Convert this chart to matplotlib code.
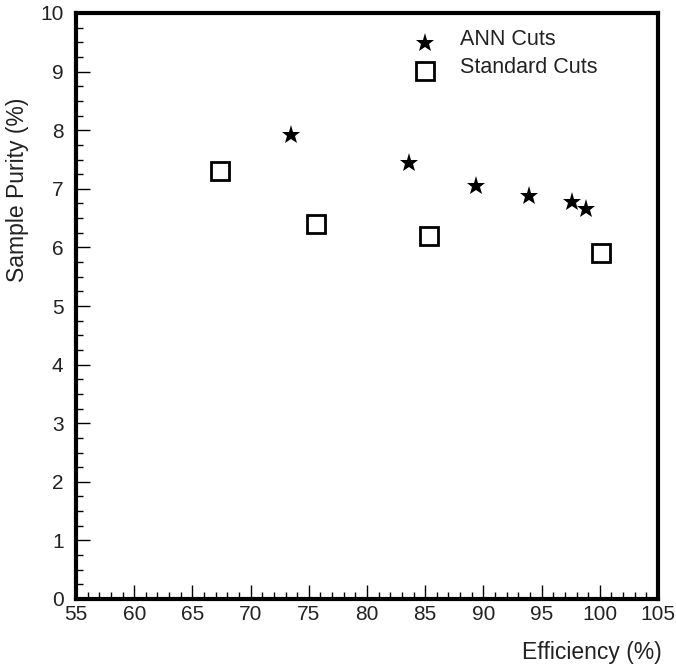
import matplotlib
matplotlib.use("Agg")
import matplotlib.pyplot as plt
from matplotlib.ticker import MultipleLocator

plt.rcParams['font.family'] = ['Liberation Sans', 'DejaVu Sans']

# Efficiency (%) vs sample purity (%)
ann_eff = [73.5, 83.6, 89.4, 93.9, 97.6, 98.8]
ann_pur = [7.92, 7.44, 7.04, 6.87, 6.77, 6.66]
std_eff = [67.4, 75.6, 85.3, 100.1]
std_pur = [7.30, 6.40, 6.20, 5.90]

fig = plt.figure(figsize=(6.76, 6.65), dpi=100)
ax = fig.add_axes([76/676, 1 - 599/665, (658-76)/676, (599-13)/665])

ax.plot(ann_eff, ann_pur, linestyle='none', marker='*', markersize=14,
        color='black', markeredgewidth=0)
ax.plot(std_eff, std_pur, linestyle='none', marker='s', markersize=13,
        markerfacecolor='white', markeredgecolor='black', markeredgewidth=2)

# in-plot key
ax.plot([85.0], [9.49], linestyle='none', marker='*', markersize=14,
        color='black', markeredgewidth=0)
ax.plot([85.0], [9.01], linestyle='none', marker='s', markersize=13,
        markerfacecolor='white', markeredgecolor='black', markeredgewidth=2)
ax.text(88.0, 9.55, 'ANN Cuts', fontsize=15.5, va='center', ha='left',
        color='#222222')
ax.text(88.0, 9.07, 'Standard Cuts', fontsize=15.5, va='center', ha='left',
        color='#222222')

ax.set_xlim(55, 105)
ax.set_ylim(0, 10)
ax.xaxis.set_major_locator(MultipleLocator(5))
ax.xaxis.set_minor_locator(MultipleLocator(1))
ax.yaxis.set_major_locator(MultipleLocator(1))
ax.yaxis.set_minor_locator(MultipleLocator(0.25))
ax.tick_params(which='major', direction='in', length=10, width=1,
               labelsize=15, labelcolor='#222222', top=False, right=False)
ax.tick_params(axis='x', which='major', pad=4)
ax.tick_params(axis='y', which='major', pad=9)
ax.tick_params(which='minor', direction='in', length=5, width=1,
               top=False, right=False)
ax.set_xticklabels([f'{int(v)}' for v in ax.get_xticks()])
for s in ax.spines.values():
    s.set_linewidth(3)

fig.text(18/676, 1 - 190/665, 'Sample Purity (%)', rotation=90,
         fontsize=16.5, ha='center', va='center', color='#222222')
fig.text(662/676, 1 - 652/665, 'Efficiency (%)', fontsize=16.5,
         ha='right', va='center', color='#222222')

fig.savefig('out.png', dpi=100)
